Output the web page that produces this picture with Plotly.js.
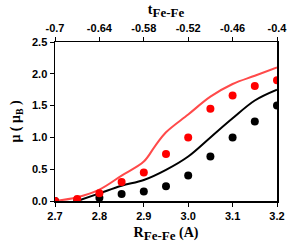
<!DOCTYPE html>
<html><head><meta charset="utf-8">
<script src="https://cdn.plot.ly/plotly-3.0.1.min.js"></script>
<style>html,body{margin:0;padding:0;background:#fff}#c{width:289px;height:248px}</style>
</head><body><div id="c"></div>
<script>
const rDots = [2.7, 2.75, 2.8, 2.85, 2.9, 2.95, 3.0, 3.05, 3.1, 3.15, 3.2];
const redDots = [0.0, 0.03, 0.12, 0.30, 0.45, 0.74, 1.0, 1.45, 1.66, 1.81, 1.90];
const blackDots = [0.0, 0.0, 0.05, 0.11, 0.15, 0.23, 0.40, 0.70, 1.0, 1.25, 1.50];
const rRedLine = [2.7, 2.75, 2.8, 2.85, 2.9, 2.925, 2.95, 3.0, 3.05, 3.1, 3.15, 3.2];
const redLine = [0.0, 0.06, 0.18, 0.40, 0.62, 0.86, 1.08, 1.36, 1.64, 1.84, 1.97, 2.10];
const rBlackLine = [2.75, 2.8, 2.85, 2.9, 2.95, 3.0, 3.05, 3.1, 3.15, 3.2];
const blackLine = [0.0, 0.12, 0.24, 0.33, 0.49, 0.70, 1.0, 1.30, 1.58, 1.75];
const tVals = [-0.7, -0.64, -0.58, -0.52, -0.46, -0.4];
const tText = ['-0.7', '-0.64', '-0.58', '-0.52', '-0.46', '-0.4'];
const yTicks = [0, 0.5, 1.0, 1.5, 2.0, 2.5];
const yText = ['0.0', '0.5', '1.0', '1.5', '2.0', '2.5'];
const xTicks = [2.7, 2.8, 2.9, 3.0, 3.1, 3.2];

const tickFont = {family: 'Liberation Sans, Arial, sans-serif', size: 11, color: '#000', weight: 'bold'};
const titleFont = {family: 'Liberation Serif, Times New Roman, serif', size: 14, color: '#000', weight: 'bold'};
const sub = s => '<sub><span style="font-size:13px">' + s + '</span></sub>';

const traces = [
  {x: rRedLine, y: redLine, mode: 'lines', line: {color: '#ff4a4a', width: 2, shape: 'spline', smoothing: 1}, hoverinfo: 'skip'},
  {x: rBlackLine, y: blackLine, mode: 'lines', line: {color: '#000', width: 2, shape: 'spline', smoothing: 1}, hoverinfo: 'skip'},
  {x: rDots, y: blackDots, mode: 'markers', marker: {color: '#000', size: 8}},
  {x: rDots, y: redDots, mode: 'markers', marker: {color: '#ff0000', size: 8}},
  {x: tVals, y: tVals.map(() => null), xaxis: 'x2', mode: 'markers', hoverinfo: 'skip'}
];

const layout = {
  width: 289, height: 248,
  margin: {l: 55, r: 12, t: 42, b: 47, pad: 0},
  showlegend: false,
  paper_bgcolor: '#fff', plot_bgcolor: '#fff',
  xaxis: {
    range: [2.7, 3.2], tickvals: xTicks, ticktext: xTicks.map(v => v.toFixed(1)),
    showline: true, linecolor: '#000', linewidth: 1.5, showgrid: false, zeroline: false,
    ticks: 'outside', ticklen: 4, tickwidth: 1, tickcolor: '#000', tickfont: tickFont,
    title: {text: 'R' + sub('Fe-Fe') + ' (A)', font: titleFont, standoff: 6}
  },
  xaxis2: {
    overlaying: 'x', side: 'top', range: [-0.7, -0.4], tickvals: tVals, ticktext: tText,
    showline: true, linecolor: '#000', linewidth: 1.5, showgrid: false, zeroline: false,
    ticks: 'outside', ticklen: 4, tickwidth: 1, tickcolor: '#000', tickfont: tickFont,
    title: {text: 't' + sub('Fe-Fe'), font: titleFont, standoff: 4}
  },
  yaxis: {
    range: [0, 2.5], tickvals: yTicks, ticktext: yText,
    showline: true, mirror: true, linecolor: '#000', linewidth: 1.5, showgrid: false, zeroline: false,
    ticks: 'outside', ticklen: 4, tickwidth: 1, tickcolor: '#000', tickfont: tickFont,
    title: {text: 'μ ( μ<sub>B</sub> )', font: titleFont, standoff: 8}
  }
};
Plotly.newPlot('c', traces, layout, {displayModeBar: false, staticPlot: true});
</script></body></html>
